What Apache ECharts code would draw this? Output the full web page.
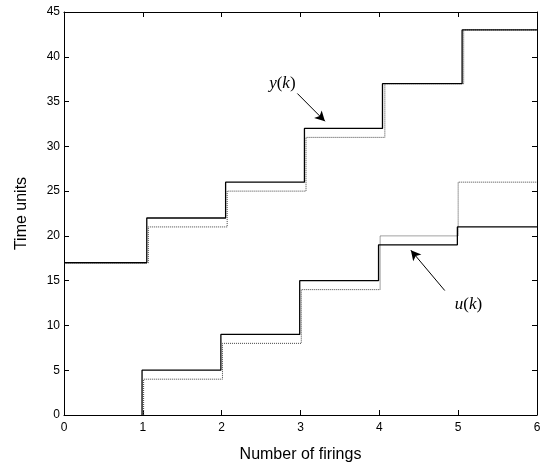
<!DOCTYPE html>
<html>
<head>
<meta charset="utf-8">
<script src="https://cdn.jsdelivr.net/npm/echarts@6/dist/echarts.min.js"></script>
<style>
  html, body { margin: 0; padding: 0; background: #fff; }
  #mychart { width: 545px; height: 464px; }
</style>
</head>
<body>
<div id="mychart"></div>
<script>
// y(k): solid and dotted staircases (step positions, levels)
const ySolidX = [0, 1.05, 2.05, 3.05, 4.04, 5.05, 6];
const ySolidV = [17, 22, 26, 32, 37, 43, 43];
const yDotX = [0, 1.07, 2.07, 3.07, 4.07, 5.07, 6];
const yDotV = [17, 21, 25, 31, 37, 43, 43];
// u(k)
const uSolidX = [0.99, 0.99, 1.99, 2.99, 3.99, 4.99, 6];
const uSolidV = [0, 5, 9, 15, 19, 21, 21];
const uDotX = [1.01, 1.01, 2.01, 3.01, 4.01, 5.0, 6];
const uDotV = [0, 4, 8, 14, 20, 26, 26];

const xTicks = [0, 1, 2, 3, 4, 5, 6];
const yTicks = [0, 5, 10, 15, 20, 25, 30, 35, 40, 45];

// annotation positions (data units)
const yLabelPos = [2.77, 37.0];
const yArrow = [[2.96, 35.9], [3.31, 32.8]];
const uLabelPos = [5.13, 12.3];
const uArrow = [[4.83, 13.9], [4.4, 18.4]];

const pairs = (xs, vs) => xs.map((x, i) => [x, vs[i]]);

const getchart = echarts.init(document.getElementById("mychart"));

const tickFont = { color: "#000", fontFamily: "Liberation Sans, Arial", fontSize: 12 };
const lineBlack = { show: true, onZero: false, lineStyle: { color: "#000", width: 1 } };

const baseX = {
  type: "value",
  min: xTicks[0],
  max: xTicks[xTicks.length - 1],
  interval: 1,
  splitLine: { show: false },
  axisLine: lineBlack,
  axisTick: { inside: true, length: 5, lineStyle: { color: "#000" } }
};
const baseY = {
  type: "value",
  min: yTicks[0],
  max: yTicks[yTicks.length - 1],
  interval: 5,
  splitLine: { show: false },
  axisLine: lineBlack,
  axisTick: { inside: true, length: 5, lineStyle: { color: "#000" } }
};

const option = {
  animation: false,
  backgroundColor: "#fff",
  grid: { left: 64, right: 8, top: 12, bottom: 49, outerBoundsMode: "none", containLabel: false },
  xAxis: [
    Object.assign({}, baseX, {
      position: "bottom",
      axisLabel: Object.assign({ margin: 7 }, tickFont),
      name: "Number of firings",
      nameLocation: "middle",
      nameGap: 32,
      nameTextStyle: { color: "#000", fontFamily: "Liberation Sans, Arial", fontSize: 16 }
    }),
    Object.assign({}, baseX, { position: "top", axisLabel: { show: false } })
  ],
  yAxis: [
    Object.assign({}, baseY, {
      position: "left",
      axisLabel: Object.assign({ margin: 4 }, tickFont),
      name: "Time units",
      nameLocation: "middle",
      nameGap: 34,
      nameTextStyle: { color: "#000", fontFamily: "Liberation Sans, Arial", fontSize: 16 }
    }),
    Object.assign({}, baseY, { position: "right", axisLabel: { show: false } })
  ],
  series: [
    {
      name: "y solid",
      type: "line",
      step: "end",
      data: pairs(ySolidX, ySolidV),
      symbol: "none",
      lineStyle: { color: "#000", width: 1.3 },
      z: 3
    },
    {
      name: "y dotted",
      type: "line",
      step: "end",
      data: pairs(yDotX, yDotV),
      symbol: "none",
      lineStyle: { color: "#444", width: 1, type: [1, 1] },
      z: 2
    },
    {
      name: "u solid",
      type: "line",
      step: "end",
      data: pairs(uSolidX, uSolidV),
      symbol: "none",
      lineStyle: { color: "#000", width: 1.3 },
      z: 3
    },
    {
      name: "u dotted",
      type: "line",
      step: "end",
      data: pairs(uDotX, uDotV),
      symbol: "none",
      lineStyle: { color: "#444", width: 1, type: [1, 1] },
      z: 2
    },
    {
      // annotations
      name: "notes",
      type: "scatter",
      data: [],
      silent: true,
      markLine: {
        silent: true,
        symbol: ["none", "arrow"],
        symbolSize: [8, 10],
        lineStyle: { color: "#000", width: 1, type: "solid" },
        label: { show: false },
        data: [
          [{ coord: yArrow[0] }, { coord: yArrow[1] }],
          [{ coord: uArrow[0] }, { coord: uArrow[1] }]
        ]
      },
      markPoint: {
        silent: true,
        symbol: "circle",
        symbolSize: 0,
        label: {
          show: true,
          position: "inside",
          color: "#000",
          fontFamily: "Liberation Serif, Times New Roman",
          fontSize: 17,
          formatter: function (p) { return p.name; },
          rich: {
            i: { fontStyle: "italic", fontFamily: "Liberation Serif", fontSize: 17, color: "#000" },
            n: { fontFamily: "Liberation Serif", fontSize: 17, color: "#000" }
          }
        },
        data: [
          { name: "{i|y}{n|(}{i|k}{n|)}", coord: yLabelPos },
          { name: "{i|u}{n|(}{i|k}{n|)}", coord: uLabelPos }
        ]
      }
    }
  ]
};

getchart.setOption(option);
</script>
</body>
</html>
